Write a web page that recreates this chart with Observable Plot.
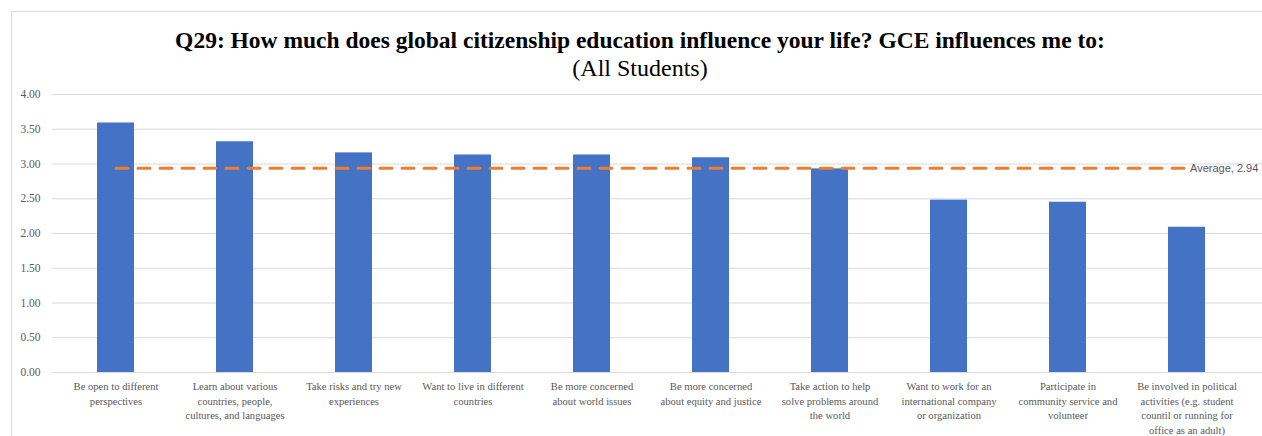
<!DOCTYPE html>
<html>
<head>
<meta charset="utf-8">
<script src="https://cdn.jsdelivr.net/npm/d3@7"></script>
<script src="https://cdn.jsdelivr.net/npm/@observablehq/plot@0.6"></script>
<style>
  body { margin: 0; background: #fff; }
  #chart { position: relative; width: 1262px; height: 436px; overflow: hidden; background: #fff; }
  #frame { position: absolute; left: 11px; top: 11px; width: 1400px; height: 600px;
           border-left: 1px solid #d9d9d9; border-top: 1px solid #d9d9d9; }
  .title { position: absolute; left: 0; width: 1280px; text-align: center;
           font-family: "Liberation Serif", "Times New Roman", serif; color: #000; white-space: nowrap; }
  #title { top: 28px; font-size: 23.5px; line-height: 24px; font-weight: bold; }
  #subtitle { top: 56px; font-size: 24px; line-height: 24px; font-weight: normal; }
  #plot { position: absolute; left: 0; top: 80px; }
</style>
</head>
<body>
<div id="chart">
  <div id="frame"></div>
  <div id="title" class="title">Q29: How much does global citizenship education influence your life? GCE influences me to:</div>
  <div id="subtitle" class="title">(All Students)</div>
  <div id="plot"></div>
</div>
<script>
// Survey items (x categories)
const categories = [
  "Be open to different perspectives",
  "Learn about various countries, people, cultures, and languages",
  "Take risks and try new experiences",
  "Want to live in different countries",
  "Be more concerned about world issues",
  "Be more concerned about equity and justice",
  "Take action to help solve problems around the world",
  "Want to work for an international company or organization",
  "Participate in community service and volunteer",
  "Be involved in political activities (e.g. student countil or running for office as an adult)"
];

// Wrapped tick labels, one entry per category
const categoryLabels = [
  "Be open to different\nperspectives",
  "Learn about various\ncountries, people,\ncultures, and languages",
  "Take risks and try new\nexperiences",
  "Want to live in different\ncountries",
  "Be more concerned\nabout world issues",
  "Be more concerned\nabout equity and justice",
  "Take action to help\nsolve problems around\nthe world",
  "Want to work for an\ninternational company\nor organization",
  "Participate in\ncommunity service and\nvolunteer",
  "Be involved in political\nactivities (e.g. student\ncountil or running for\noffice as an adult)"
];

// Mean score per item
const scores = [3.59, 3.32, 3.16, 3.13, 3.13, 3.09, 2.93, 2.48, 2.45, 2.09];

// Overall average across items
const averageScore = 2.94;

// Y axis ticks
const yTicks = [0, 0.5, 1, 1.5, 2, 2.5, 3, 3.5, 4];

const rows = categories.map((c, i) => ({category: c, score: scores[i], label: categoryLabels[i]}));

const serif = "Liberation Serif, Times New Roman, serif";
const gray = "#595959";

const chart = Plot.plot({
  width: 1262,
  height: 356,
  marginLeft: 52,
  marginRight: 0,
  marginTop: 14,
  marginBottom: 64,
  style: {background: "transparent", overflow: "visible"},
  // categories occupy 52..1250; the gridlines run on to the right edge
  x: {domain: categories, range: [52, 1250], padding: 0, axis: null},
  y: {domain: [0, 4], axis: null},
  marks: [
    Plot.ruleY(yTicks, {stroke: "#d9d9d9", strokeWidth: 1}),
    Plot.axisY(yTicks, {
      tickSize: 0, tickPadding: 12, tickFormat: d => d.toFixed(2),
      fontFamily: serif, fontSize: 11.5, fill: gray, label: null
    }),
    Plot.barY(rows, {x: "category", y: "score", fill: "#4472C4", insetLeft: 41, insetRight: 41}),
    Plot.lineY(rows, {
      x: "category", y: () => averageScore,
      stroke: "#ED7D31", strokeWidth: 3, strokeDasharray: "12,10"
    }),
    Plot.text([averageScore], {
      x: () => categories[categories.length - 1], y: d => d,
      text: d => `Average, ${d.toFixed(2)}`,
      textAnchor: "start", dx: 3,
      fontFamily: "Liberation Sans, Arial, sans-serif", fontSize: 11, fill: gray
    }),
    Plot.text(rows, {
      x: "category", text: "label",
      frameAnchor: "bottom", lineAnchor: "top", dy: 7, lineHeight: 1.39,
      fontFamily: serif, fontSize: 10.6, fill: gray
    })
  ]
});

document.getElementById("plot").appendChild(chart);
</script>
</body>
</html>
